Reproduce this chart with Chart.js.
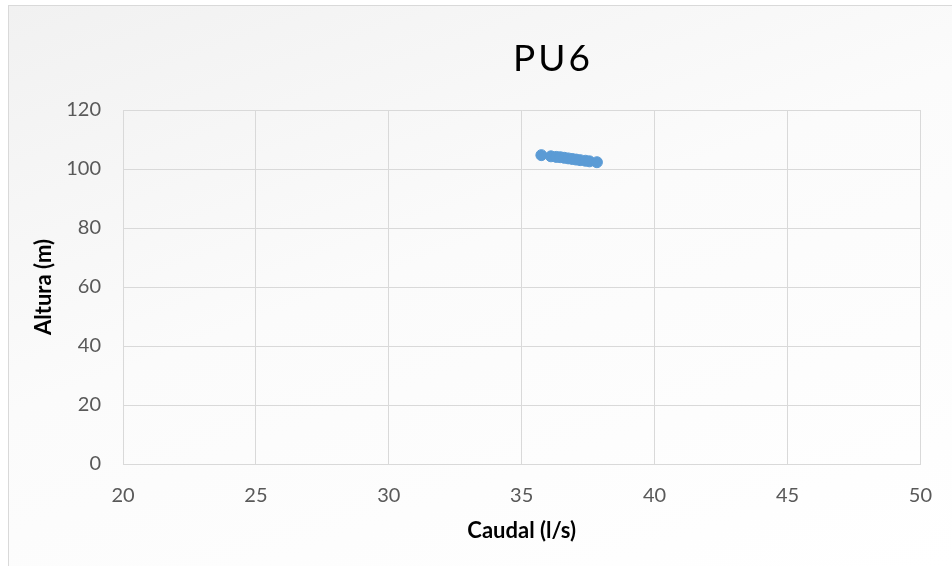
<!DOCTYPE html>
<html>
<head>
<meta charset="utf-8">
<script src="https://cdn.jsdelivr.net/npm/chart.js@4"></script>
<style>
    html, body { margin: 0; padding: 0; width: 952px; height: 566px; overflow: hidden; }
    body { background: #ffffff; position: relative; }
    #frame {
        position: absolute; left: 8px; top: 5px; width: 944px; height: 561px;
        border-left: 1px solid #d9d9d9; border-top: 1px solid #d9d9d9;
        background: linear-gradient(160deg, #f1f1f1 0%, #fbfbfb 45%, #ffffff 100%);
    }
    #wrap { position: absolute; left: 0; top: 0; width: 952px; height: 566px; }
    #title {
        position: absolute; left: 453px; width: 200px; top: 35px; height: 44px;
        line-height: 44px; text-align: center;
        font-family: Lato, "Open Sans", sans-serif; font-size: 37px; letter-spacing: 3px;
        color: #000000;
    }
</style>
</head>
<body>
<div id="frame"></div>
<div id="wrap"><canvas id="pu6Chart" width="952" height="566"></canvas></div>
<div id="title">PU6</div>
<script>
// Caudal (l/s) e Altura (m)
const CAUDAL = [35.74, 36.1, 36.3, 36.45, 36.6, 36.75, 36.9, 37.05, 37.2, 37.4, 37.55, 37.83];
const ALTURA = [104.7, 104.3, 104.1, 104.0, 103.8, 103.6, 103.4, 103.2, 103.0, 102.8, 102.6, 102.3];

const X_MIN = 20, X_MAX = 50, X_STEP = 5;
const Y_MIN = 0, Y_MAX = 120, Y_STEP = 20;

const FONT = 'Lato, "Open Sans", sans-serif';
const GRID = '#d9d9d9';
const TICK_COLOR = '#595959';

document.addEventListener('DOMContentLoaded', () => {
    const ctx = document.getElementById('pu6Chart').getContext('2d');

    const points = CAUDAL.map((x, i) => ({ x: x, y: ALTURA[i] }));

    new Chart(ctx, {
        type: 'scatter',
        data: {
            datasets: [{
                label: 'PU6',
                data: points,
                backgroundColor: '#5b9bd5',
                borderColor: '#5b9bd5',
                pointRadius: 5.5,
                pointHoverRadius: 5.5
            }]
        },
        options: {
            responsive: false,
            animation: false,
            // o título fica num div à parte, por isso o topo é reservado aqui
            layout: { padding: { left: 0, right: 28, top: 110, bottom: 0 } },
            plugins: {
                legend: { display: false },
                tooltip: { enabled: false },
                title: { display: false }
            },
            scales: {
                x: {
                    type: 'linear',
                    min: X_MIN,
                    max: X_MAX,
                    ticks: { stepSize: X_STEP, color: TICK_COLOR, padding: 20, font: { family: FONT, size: 20 } },
                    grid: { color: GRID, drawTicks: false },
                    border: { color: GRID },
                    title: {
                        display: true,
                        text: 'Caudal (l/s)',
                        color: '#000000',
                        font: { family: FONT, size: 22, weight: 'bold' },
                        padding: { top: 0, bottom: 22 }
                    },
                    afterFit: (scale) => { scale.height = 102; }
                },
                y: {
                    type: 'linear',
                    min: Y_MIN,
                    max: Y_MAX,
                    ticks: { stepSize: Y_STEP, color: TICK_COLOR, padding: 22, font: { family: FONT, size: 20 } },
                    grid: { color: GRID, drawTicks: false },
                    border: { color: GRID },
                    title: {
                        display: true,
                        text: 'Altura (m)',
                        color: '#000000',
                        font: { family: FONT, size: 22, weight: 'bold' },
                        padding: { top: 31, bottom: 0 }
                    },
                    afterFit: (scale) => { scale.width = 123; }
                }
            }
        }
    });
});
</script>
</body>
</html>
